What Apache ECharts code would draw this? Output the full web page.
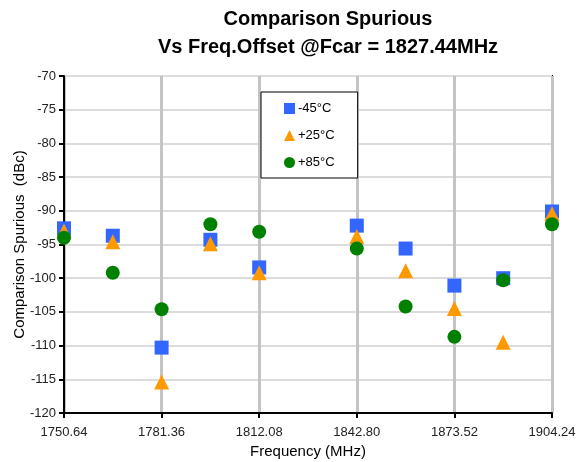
<!DOCTYPE html>
<html>
<head>
<meta charset="utf-8">
<script src="https://cdn.jsdelivr.net/npm/echarts@6/dist/echarts.min.js"></script>
<style>html,body{margin:0;padding:0;background:#fff;}#c{width:577px;height:462px;}</style>
</head>
<body>
<div id="c"></div>
<script>
const freqs = ["1750.64","1766.00","1781.36","1796.72","1812.08","1827.44","1842.80","1858.16","1873.52","1888.88","1904.24"];
const m45 = [-92.6, -93.7, -110.3, -94.3, -98.4, null, -92.2, -95.6, -101.1, -100.0, -90.1];
const p25 = [-93.0, -94.6, -115.4, -94.9, -99.2, null, -93.8, -98.9, -104.5, -109.5, -90.4];
const p85 = [-94.0, -99.2, -104.6, -92.0, -93.1, null, -95.6, -104.2, -108.7, -100.3, -92.0];
const seriesNames = ["-45°C", "+25°C", "+85°C"];

const chart = echarts.init(document.getElementById('c'), null, {renderer: 'canvas'});
const font = 'Arial, "Liberation Sans", sans-serif';
chart.setOption({
  animation: false,
  backgroundColor: '#fff',
  title: {
    text: 'Comparison Spurious\nVs Freq.Offset @Fcar = 1827.44MHz',
    left: 328, top: 5, textAlign: 'center', padding: 0,
    textStyle: {fontFamily: font, fontSize: 20, fontWeight: 'bold', color: '#000', lineHeight: 28}
  },
  legend: {
    orient: 'vertical', left: 261, top: 92,
    padding: [10, 23, 9, 23],
    itemGap: 14, itemWidth: 11, itemHeight: 11,
    borderColor: '#000', borderWidth: 1, backgroundColor: '#fff',
    textStyle: {fontFamily: font, fontSize: 13, color: '#000', padding: [0,0,0,-2]},
    data: [
      {name: seriesNames[0], icon: 'rect'},
      {name: seriesNames[1], icon: 'triangle'},
      {name: seriesNames[2], icon: 'circle'}
    ]
  },
  grid: {left: 64, right: 25, top: 76, bottom: 49, show: true, borderColor: '#000', borderWidth: 2, containLabel: false, outerBoundsMode: 'none'},
  xAxis: {
    type: 'category', data: freqs, boundaryGap: false,
    name: 'Frequency (MHz)', nameLocation: 'middle', nameGap: 31, nameMoveOverlap: false,
    nameTextStyle: {fontFamily: font, fontSize: 15, color: '#000'},
    axisLine: {lineStyle: {color: '#000', width: 2}},
    axisTick: {interval: 1, length: 5, lineStyle: {color: '#000', width: 2}},
    axisLabel: {interval: 1, margin: 13, fontFamily: font, fontSize: 13, color: '#222'},
    splitLine: {show: true, interval: 1, lineStyle: {color: '#c4c4c4', width: 3}}
  },
  yAxis: {
    type: 'value', min: -120, max: -70, interval: 5,
    name: 'Comparison Spurious  (dBc)', nameLocation: 'middle', nameGap: 37, nameMoveOverlap: false,
    nameTextStyle: {fontFamily: font, fontSize: 15, color: '#000'},
    axisLine: {show: true, lineStyle: {color: '#000', width: 2}},
    axisTick: {show: true, length: 5, lineStyle: {color: '#000', width: 2}},
    axisLabel: {margin: 8, fontFamily: font, fontSize: 13, color: '#222'},
    splitLine: {show: true, lineStyle: {color: '#dcdcdc', width: 2}}
  },
  series: [
    {name: seriesNames[0], type: 'scatter', symbol: 'rect', symbolSize: 14, data: m45, itemStyle: {color: '#3366FF', opacity: 1}},
    {name: seriesNames[1], type: 'scatter', symbol: 'triangle', symbolSize: 15, data: p25, itemStyle: {color: '#FF9900', opacity: 1}},
    {name: seriesNames[2], type: 'scatter', symbol: 'circle', symbolSize: 14, data: p85, itemStyle: {color: '#008000', opacity: 1}}
  ]
});
</script>
</body>
</html>
